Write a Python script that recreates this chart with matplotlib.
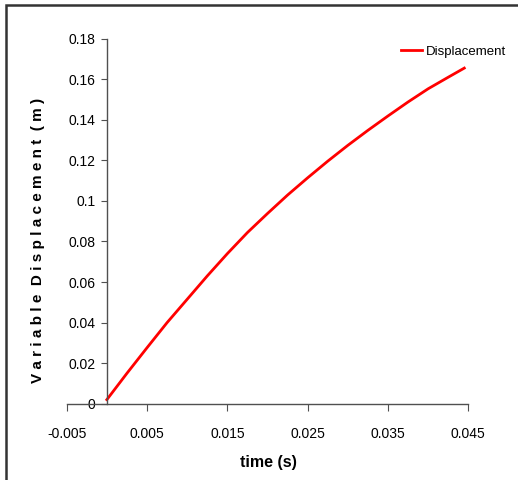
import matplotlib
matplotlib.use("Agg")
import matplotlib.pyplot as plt
from matplotlib.ticker import FuncFormatter
from matplotlib.patches import Rectangle

# values
time_s = [0.0, 0.0025, 0.005, 0.0075, 0.01, 0.0125, 0.015, 0.0175, 0.02, 0.0225,
          0.025, 0.0275, 0.03, 0.0325, 0.035, 0.0375, 0.04, 0.0425, 0.0445]
disp_m = [0.0020, 0.0150, 0.0276, 0.0400, 0.0515, 0.0630, 0.0740, 0.0844, 0.0938, 0.1029,
          0.1114, 0.1196, 0.1274, 0.1348, 0.1419, 0.1488, 0.1553, 0.1610, 0.1655]
xticks = [-0.005, 0.005, 0.015, 0.025, 0.035, 0.045]
yticks = [0, 0.02, 0.04, 0.06, 0.08, 0.1, 0.12, 0.14, 0.16, 0.18]

plt.rcParams['font.family'] = ['Liberation Sans', 'DejaVu Sans']

fig = plt.figure(figsize=(5.18, 4.80), dpi=100)
W, H = 518.0, 480.0
ax = fig.add_axes([66.7/W, 1-403.7/H, (468.3-66.7)/W, (403.7-38.7)/H])

ax.plot(time_s, disp_m, color='#ff0000', lw=2.0, label='Displacement')

ax.set_xlim(-0.005, 0.045)
ax.set_ylim(0, 0.18)
ax.set_xticks(xticks)
ax.set_yticks(yticks)
fmt = FuncFormatter(lambda v, p: '%g' % round(v, 4))
ax.xaxis.set_major_formatter(fmt)
ax.yaxis.set_major_formatter(fmt)

for s in ['top', 'right']:
    ax.spines[s].set_visible(False)
ax.spines['left'].set_position(('data', 0))
for s in ['left', 'bottom']:
    ax.spines[s].set_color('#505050')
    ax.spines[s].set_linewidth(1.0)
ax.tick_params(axis='x', direction='out', length=5, pad=12, color='#505050', labelsize=10)
ax.tick_params(axis='y', direction='out', length=4, pad=4, color='#505050', labelsize=10)

leg = ax.legend(loc='center left', bbox_to_anchor=(401/W, 1-52/H),
                bbox_transform=fig.transFigure, frameon=False, borderpad=0,
                borderaxespad=0, fontsize=9.5, handlelength=1.6, handletextpad=0.25)

fig.text(38/W, 1-240/H, 'V a r i a b l e  D i s p l a c e m e n t  ( m )',
         rotation=90, ha='center', va='center', fontsize=11, fontweight='bold')
fig.text(268/W, 1-462/H, 'time (s)', ha='center', va='center', fontsize=11.5,
         fontweight='bold')

# outer frame
fig.patches.append(Rectangle((6/W, -0.05), 1.1, 1-5/H+0.05, transform=fig.transFigure,
                             fill=False, edgecolor='#333333', lw=1.8, clip_on=False))

fig.savefig('out.png', dpi=100)
